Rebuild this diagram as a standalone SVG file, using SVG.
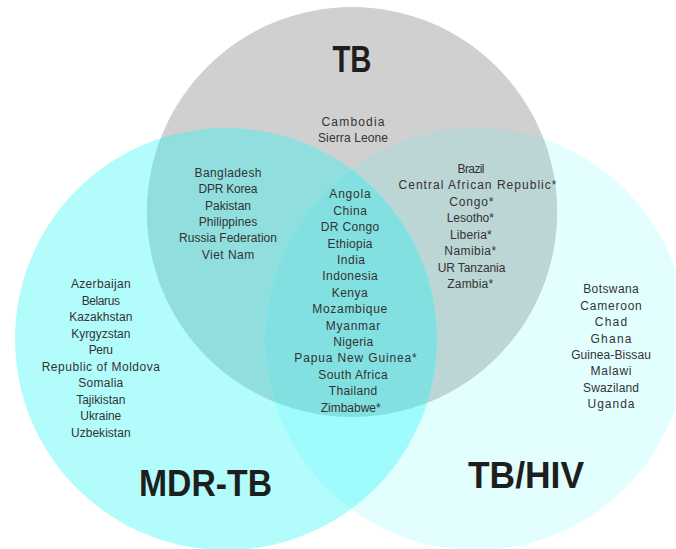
<svg xmlns="http://www.w3.org/2000/svg" width="676" height="549" viewBox="0 0 676 549">
<style>
.lst{font-family:"Liberation Sans","Noto Sans",sans-serif;font-size:12px;fill:#333;text-anchor:middle}
.ttl{font-family:"Liberation Sans","Noto Sans",sans-serif;font-weight:bold;font-size:36px;fill:#1e1e1e;text-anchor:middle}
</style>
<defs>
<clipPath id="cTB"><circle cx="352" cy="212" r="205"/></clipPath>
<clipPath id="cMDR"><circle cx="226" cy="339" r="211"/></clipPath>
<clipPath id="cHIV"><circle cx="476" cy="339" r="211"/></clipPath>
</defs>
<rect width="676" height="549" fill="#fff"/>
<g id="circle-tbhiv"><circle cx="476" cy="339" r="211" fill="#e2fefe"/></g>
<g id="circle-mdr"><circle cx="226" cy="339" r="211" fill="#b2fcfc"/></g>
<g id="circle-tb"><circle cx="352" cy="212" r="205" fill="#d0d0d0"/></g>
<g id="overlaps">
<circle cx="226" cy="339" r="211" fill="#90dede" clip-path="url(#cTB)"/>
<circle cx="476" cy="339" r="211" fill="#bcd5d5" clip-path="url(#cTB)"/>
<circle cx="226" cy="339" r="211" fill="#a0fcfc" clip-path="url(#cHIV)"/>
<g clip-path="url(#cTB)"><circle cx="226" cy="339" r="211" fill="#82e0e0" clip-path="url(#cHIV)"/></g>
</g>
<g id="titles">
<text class="ttl" x="352" y="72" textLength="39" lengthAdjust="spacingAndGlyphs">TB</text>
<text class="ttl" x="205.5" y="495.5" textLength="133" lengthAdjust="spacingAndGlyphs">MDR-TB</text>
<text class="ttl" x="526" y="488.3" textLength="116" lengthAdjust="spacingAndGlyphs">TB/HIV</text>
</g>
<g id="tb-only">
<text class="lst" x="353" y="126" textLength="63" lengthAdjust="spacing">Cambodia</text>
<text class="lst" x="353" y="142.3" textLength="70" lengthAdjust="spacing">Sierra Leone</text>
</g>
<g id="tb-mdr">
<text class="lst" x="228" y="176.7" textLength="67" lengthAdjust="spacing">Bangladesh</text>
<text class="lst" x="228" y="193.1" textLength="59" lengthAdjust="spacing">DPR Korea</text>
<text class="lst" x="228" y="209.5" textLength="46" lengthAdjust="spacing">Pakistan</text>
<text class="lst" x="228" y="225.9" textLength="58.5" lengthAdjust="spacing">Philippines</text>
<text class="lst" x="228" y="242.3" textLength="98" lengthAdjust="spacing">Russia Federation</text>
<text class="lst" x="228" y="258.7" textLength="52.5" lengthAdjust="spacing">Viet Nam</text>
</g>
<g id="all-three">
<text class="lst" x="350" y="198.3" textLength="41.3" lengthAdjust="spacing">Angola</text>
<text class="lst" x="350" y="214.7" textLength="33.7" lengthAdjust="spacing">China</text>
<text class="lst" x="350" y="231.1" textLength="58.3" lengthAdjust="spacing">DR Congo</text>
<text class="lst" x="350" y="247.5" textLength="45" lengthAdjust="spacing">Ethiopia</text>
<text class="lst" x="351" y="263.9" textLength="28" lengthAdjust="spacing">India</text>
<text class="lst" x="350" y="280.3" textLength="55.3" lengthAdjust="spacing">Indonesia</text>
<text class="lst" x="349.7" y="296.7" textLength="36" lengthAdjust="spacing">Kenya</text>
<text class="lst" x="349.8" y="313.1" textLength="75" lengthAdjust="spacing">Mozambique</text>
<text class="lst" x="353" y="329.5" textLength="54.3" lengthAdjust="spacing">Myanmar</text>
<text class="lst" x="353.3" y="345.9" textLength="40" lengthAdjust="spacing">Nigeria</text>
<text class="lst" x="355.5" y="362.3" textLength="122.3" lengthAdjust="spacing">Papua New Guinea*</text>
<text class="lst" x="353" y="378.7" textLength="69.3" lengthAdjust="spacing">South Africa</text>
<text class="lst" x="353" y="395.1" textLength="48.3" lengthAdjust="spacing">Thailand</text>
<text class="lst" x="350.7" y="411.5" textLength="60" lengthAdjust="spacing">Zimbabwe*</text>
</g>
<g id="tb-hiv">
<text class="lst" x="471" y="172.8" textLength="27" lengthAdjust="spacing">Brazil</text>
<text class="lst" x="477.5" y="189.3" textLength="158" lengthAdjust="spacing">Central African Republic*</text>
<text class="lst" x="471.3" y="205.8" textLength="44" lengthAdjust="spacing">Congo*</text>
<text class="lst" x="470.3" y="222.3" textLength="47.3" lengthAdjust="spacing">Lesotho*</text>
<text class="lst" x="470.8" y="238.8" textLength="41.7" lengthAdjust="spacing">Liberia*</text>
<text class="lst" x="470.2" y="255.3" textLength="51.7" lengthAdjust="spacing">Namibia*</text>
<text class="lst" x="471.5" y="271.8" textLength="67.7" lengthAdjust="spacing">UR Tanzania</text>
<text class="lst" x="470.2" y="288.3" textLength="45.7" lengthAdjust="spacing">Zambia*</text>
</g>
<g id="mdr-only">
<text class="lst" x="100.8" y="288.3" textLength="59.7" lengthAdjust="spacing">Azerbaijan</text>
<text class="lst" x="100.8" y="304.8" textLength="38.3" lengthAdjust="spacing">Belarus</text>
<text class="lst" x="100.8" y="321.3" textLength="63.3" lengthAdjust="spacing">Kazakhstan</text>
<text class="lst" x="100.8" y="337.8" textLength="59.3" lengthAdjust="spacing">Kyrgyzstan</text>
<text class="lst" x="100.8" y="354.3" textLength="24.3" lengthAdjust="spacing">Peru</text>
<text class="lst" x="100.8" y="370.8" textLength="118.3" lengthAdjust="spacing">Republic of Moldova</text>
<text class="lst" x="100.8" y="387.3" textLength="45" lengthAdjust="spacing">Somalia</text>
<text class="lst" x="100.8" y="403.8" textLength="49.3" lengthAdjust="spacing">Tajikistan</text>
<text class="lst" x="100.8" y="420.3" textLength="41" lengthAdjust="spacing">Ukraine</text>
<text class="lst" x="100.8" y="436.8" textLength="59.7" lengthAdjust="spacing">Uzbekistan</text>
</g>
<g id="hiv-only">
<text class="lst" x="611" y="293.3" textLength="55.6" lengthAdjust="spacing">Botswana</text>
<text class="lst" x="611" y="309.7" textLength="61.6" lengthAdjust="spacing">Cameroon</text>
<text class="lst" x="611" y="326.1" textLength="32.3" lengthAdjust="spacing">Chad</text>
<text class="lst" x="611" y="342.5" textLength="41" lengthAdjust="spacing">Ghana</text>
<text class="lst" x="611" y="358.9" textLength="79.7" lengthAdjust="spacing">Guinea-Bissau</text>
<text class="lst" x="611" y="375.3" textLength="41" lengthAdjust="spacing">Malawi</text>
<text class="lst" x="611" y="391.7" textLength="56" lengthAdjust="spacing">Swaziland</text>
<text class="lst" x="611" y="408.1" textLength="47" lengthAdjust="spacing">Uganda</text>
</g>
</svg>
